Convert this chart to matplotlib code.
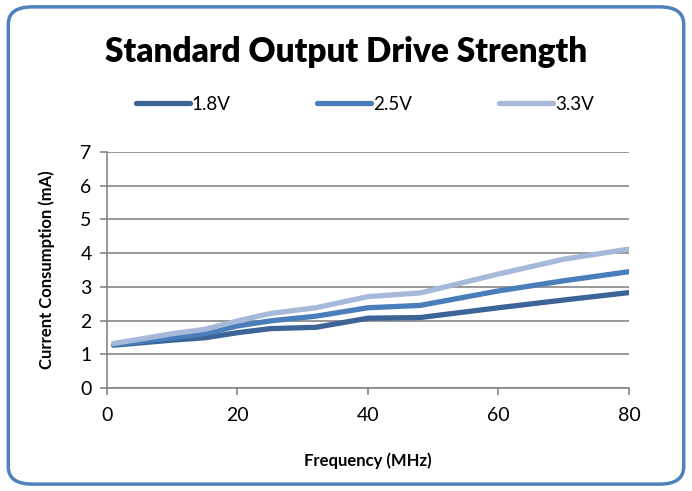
import matplotlib.pyplot as plt
from matplotlib.patches import FancyBboxPatch
from matplotlib.lines import Line2D

plt.rcParams['font.family'] = ['Lato', 'DejaVu Sans']

# data
freq = [1, 10, 15, 20, 25, 32, 40, 48, 60, 70, 80]
v18 = [1.27, 1.42, 1.49, 1.64, 1.76, 1.80, 2.07, 2.09, 2.38, 2.61, 2.83]
v25 = [1.29, 1.49, 1.61, 1.84, 1.99, 2.13, 2.38, 2.45, 2.88, 3.18, 3.45]
v33 = [1.32, 1.61, 1.74, 1.99, 2.21, 2.38, 2.71, 2.82, 3.38, 3.82, 4.12]
names = ['1.8V', '2.5V', '3.3V']
colors = ['#3C6496', '#4A7EBB', '#A7B9D9']

fig = plt.figure(figsize=(6.92, 4.91), dpi=100)

# rounded chart border
border = FancyBboxPatch((0.012, 0.014), 0.976, 0.972,
                        boxstyle='round,pad=0,rounding_size=0.035',
                        transform=fig.transFigure, fill=False,
                        edgecolor='#4F81BD', linewidth=2.5)
fig.patches.append(border)

ax = fig.add_axes([0.1546, 0.2098, 0.7543, 0.4806])
grid_c = '#868686'
for ys, c in zip([v18, v25, v33], colors):
    ax.plot(freq, ys, color=c, linewidth=3.8, solid_capstyle='round',
            solid_joinstyle='round')

ax.set_xlim(0, 80)
ax.set_ylim(0, 7)
ax.set_xticks([0, 20, 40, 60, 80])
ax.set_yticks(range(8))
ax.yaxis.grid(True, color=grid_c, linewidth=1.2)
ax.set_axisbelow(True)
for s in ['top', 'right']:
    ax.spines[s].set_visible(False)
for s in ['left', 'bottom']:
    ax.spines[s].set_color(grid_c)
    ax.spines[s].set_linewidth(1.2)
ax.tick_params(axis='both', colors=grid_c, width=1.2, length=5,
               labelcolor='black', labelsize=14)
ax.tick_params(axis='x', pad=9)
ax.tick_params(axis='y', pad=6)

ax.set_xlabel('Frequency (MHz)', fontsize=12, fontweight='bold', labelpad=20)
ax.set_ylabel('Current Consumption (mA)', fontsize=12, fontweight='bold',
              labelpad=18)

fig.text(0.5, 0.894, 'Standard Output Drive Strength', ha='center',
         va='center', fontsize=24, fontweight='heavy')

handles = [Line2D([], [], color=c, linewidth=3.8, solid_capstyle='round')
           for c in colors]
fig.legend(handles, names, loc='center', bbox_to_anchor=(0.527, 0.788),
           ncol=3, frameon=False, fontsize=13.5, handlelength=2.9,
           handletextpad=0.1, columnspacing=4.6)

fig.savefig('out.png', dpi=100)
